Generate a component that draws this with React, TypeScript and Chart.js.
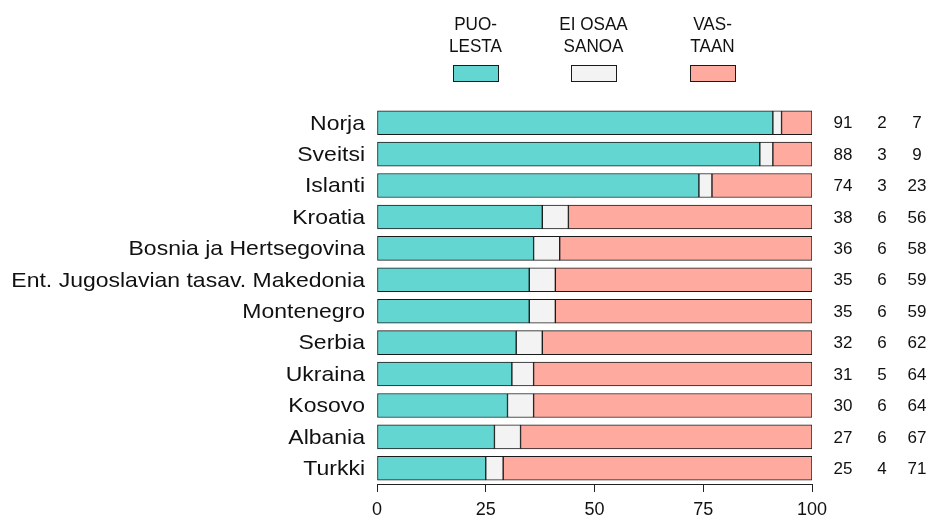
import React, { useEffect, useRef } from "react";
import { Chart, registerables } from "chart.js";

Chart.register(...registerables);

const categories = [
  "Norja",
  "Sveitsi",
  "Islanti",
  "Kroatia",
  "Bosnia ja Hertsegovina",
  "Ent. Jugoslavian tasav. Makedonia",
  "Montenegro",
  "Serbia",
  "Ukraina",
  "Kosovo",
  "Albania",
  "Turkki",
];
const puolesta = [91, 88, 74, 38, 36, 35, 35, 32, 31, 30, 27, 25];
const eiOsaa = [2, 3, 3, 6, 6, 6, 6, 6, 5, 6, 6, 4];
const vastaan = [7, 9, 23, 56, 58, 59, 59, 62, 64, 64, 67, 71];
const seriesNames = [["PUO-", "LESTA"], ["EI OSAA", "SANOA"], ["VAS-", "TAAN"]];
const xTicks = [0, 25, 50, 75, 100];

const COLORS = ["rgb(99,214,209)", "rgb(243,243,243)", "rgb(255,170,158)"];
const FONT = "'Liberation Sans', Arial, Helvetica, sans-serif";

export default function App() {
  const ref = useRef<HTMLCanvasElement>(null);

  useEffect(() => {
    document.body.style.margin = "0";
    const canvas = ref.current!;
    const series = [puolesta, eiOsaa, vastaan];

    const overlay = {
      id: "overlay",
      afterDraw(chart: any) {
        const ctx = chart.ctx;
        const yScale = chart.scales.y;
        ctx.save();
        // category labels
        ctx.fillStyle = "#111";
        ctx.font = `21px ${FONT}`;
        ctx.textAlign = "right";
        ctx.textBaseline = "middle";
        categories.forEach((c, i) => {
          const y = yScale.getPixelForValue(i);
          ctx.save();
          ctx.translate(365, y + 1);
          ctx.scale(1.095, 1);
          ctx.fillText(c, 0, 0);
          ctx.restore();
        });
        // right value columns
        ctx.font = `17px ${FONT}`;
        ctx.textAlign = "center";
        const cols = [843, 882, 917];
        categories.forEach((_, i) => {
          const y = yScale.getPixelForValue(i);
          series.forEach((s, k) => {
            ctx.fillText(String(s[i]), cols[k], y + 1);
          });
        });
        // legend
        const centers = [475.5, 593.5, 712.5];
        ctx.font = `19px ${FONT}`;
        ctx.textBaseline = "alphabetic";
        seriesNames.forEach((lines, k) => {
          ctx.fillStyle = "#111";
          lines.forEach((t, j) => {
            ctx.save();
            ctx.translate(centers[k], 29.5 + j * 22.4);
            ctx.scale(0.9, 1);
            ctx.fillText(t, 0, 0);
            ctx.restore();
          });
          ctx.fillStyle = COLORS[k];
          ctx.fillRect(centers[k] - 22.5, 65, 45, 17);
          ctx.strokeStyle = "#1a1a1a";
          ctx.lineWidth = 1;
          ctx.strokeRect(centers[k] - 22, 65.5, 45, 16);
        });
        ctx.restore();
      },
    };

    const chart = new Chart(canvas, {
      type: "bar",
      data: {
        labels: categories,
        datasets: series.map((s, k) => ({
          label: seriesNames[k].join(""),
          data: s,
          backgroundColor: COLORS[k],
          borderColor: "#1a1a1a",
          borderWidth: 1,
          borderSkipped: false,
          barThickness: 24,
        })),
      },
      options: {
        indexAxis: "y",
        animation: false,
        responsive: false,
        maintainAspectRatio: false,
        layout: { padding: { top: 107, right: 121, left: 0, bottom: 0 } },
        plugins: {
          legend: { display: false },
          tooltip: { enabled: false },
        },
        scales: {
          x: {
            stacked: true,
            min: 0,
            max: 100,
            afterBuildTicks: (axis: any) => {
              axis.ticks = xTicks.map((v) => ({ value: v }));
            },
            afterFit: (axis: any) => {
              axis.height = 31;
            },
            grid: {
              drawOnChartArea: false,
              drawTicks: true,
              tickLength: 8,
              color: "#222",
              lineWidth: 1,
            },
            border: { display: true, color: "#222", width: 1 },
            ticks: {
              color: "#111",
              font: { family: FONT, size: 18 },
              padding: 7,
              maxRotation: 0,
            },
          },
          y: {
            stacked: true,
            afterFit: (axis: any) => {
              axis.width = 377;
            },
            grid: { display: false, drawTicks: false },
            border: { display: false },
            ticks: { display: false },
          },
        },
      },
      plugins: [overlay],
    });
    return () => chart.destroy();
  }, []);

  return (
    <div style={{ position: "absolute", left: 0, top: 0, width: 933, height: 515 }}>
      <canvas ref={ref} width={933} height={515} style={{ width: 933, height: 515 }} />
    </div>
  );
}
